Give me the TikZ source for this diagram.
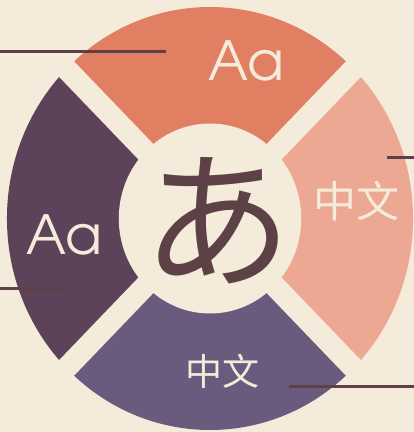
\documentclass[tikz,border=0pt]{standalone}
\usepackage{fontspec}
\newfontfamily\adv{TeX Gyre Adventor}
\newfontfamily\cjksc{Noto Sans CJK SC}
\newfontfamily\cjkjp{Noto Sans CJK JP}
\definecolor{bgc}{HTML}{F4EBDB}
\definecolor{segor}{HTML}{E07F62}
\definecolor{segpk}{HTML}{ECA893}
\definecolor{segdp}{HTML}{5C4359}
\definecolor{segvp}{HTML}{6A5B7E}
\definecolor{linec}{HTML}{5D4146}
\tikzset{
  pointer/.style={draw=linec, line width=3pt},
  lighttext/.style={text=bgc, inner sep=0pt, anchor=center},
}
\begin{document}
\begin{tikzpicture}[x=1pt,y=-1pt]
\fill[bgc] (0,0) rectangle (414,432);
\useasboundingbox (0,0) rectangle (414,432);
\begin{scope}[shift={(210,218.5)}, xscale=0.96, yscale=-1]
  \def\R{211.5}
  \fill[segor] (0,0) -- (45:\R) arc (45:135:\R) -- cycle;
  \fill[segdp] (0,0) -- (135:\R) arc (135:225:\R) -- cycle;
  \fill[segvp] (0,0) -- (225:\R) arc (225:315:\R) -- cycle;
  \fill[segpk] (0,0) -- (315:\R) arc (315:405:\R) -- cycle;
  \fill[bgc, rotate=45] (-230,-11) rectangle (230,11);
  \fill[bgc, rotate=-45] (-230,-11) rectangle (230,11);
  \fill[bgc] (0,0) circle (95);
\end{scope}
\node[lighttext, font=\adv\fontsize{54}{54}\selectfont] (t1) at (246,61) {Aa};
\node[lighttext, font=\adv\fontsize{54}{54}\selectfont] (t2) at (64,235) {Aa};
\node[lighttext, font=\cjksc\fontsize{43}{43}\selectfont] (t3) at (356,201) {中文};
\node[lighttext, font=\cjksc\fontsize{37}{37}\selectfont] (t4) at (222,371) {中文};
\node[text=linec, inner sep=0pt, anchor=center, font=\cjkjp\fontsize{150}{150}\selectfont] (c) at (217,221) {あ};
\coordinate (a1) at (0,51); \coordinate (b1) at (166,51);
\coordinate (a2) at (387,157); \coordinate (b2) at (414,157);
\coordinate (a3) at (0,288); \coordinate (b3) at (68,288);
\coordinate (a4) at (289,386); \coordinate (b4) at (414,386);
\draw[pointer] (a1) -- (b1);
\draw[pointer] (a2) -- (b2);
\draw[pointer] (a3) -- (b3);
\draw[pointer] (a4) -- (b4);
\end{tikzpicture}
\end{document}
